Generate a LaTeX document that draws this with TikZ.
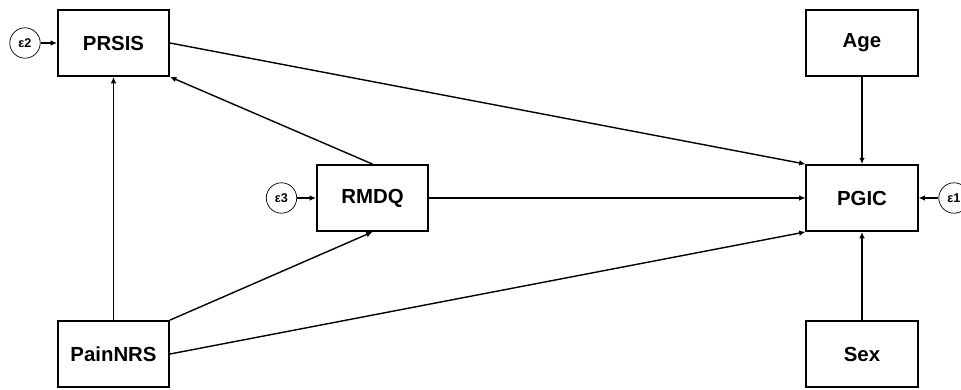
\documentclass[tikz,border=0pt]{standalone}
\usepackage{fontspec}
\setmainfont{Liberation Sans}
\usetikzlibrary{arrows.meta}
\tikzset{
	var/.style={draw=black, line width=1.3pt, minimum width=2.78cm, minimum height=1.65cm, font=\fontsize{14.5}{16}\selectfont\bfseries},
	err/.style={draw=black, line width=0.5pt, circle, minimum size=0.76cm, inner sep=0pt, font=\fontsize{9}{10}\selectfont\bfseries},
	path/.style={line width=1pt, -{Latex[length=4.5pt,width=4pt]}}
}

\begin{document}
\begin{tikzpicture}[x=0.025cm, y=-0.025cm]
			%%%%% START %%%%%
			
			\useasboundingbox (0, 0) rectangle (961, 389);
			
			\node[var] (PRSIS) at (113.5, 43) {PRSIS};
			\node[var] (PainNRS) at (113.5, 354) {PainNRS};
			\node[var] (RMDQ) at (372.5, 198) {RMDQ};
			\node[var] (Age) at (862, 43) {Age};
			\node[var] (PGIC) at (862, 198) {PGIC};
			\node[var] (Sex) at (862, 354) {Sex};
			
			\node[err] (e2) at (25, 43) {ε2};
			\node[err] (e3) at (281.5, 198) {ε3};
			\node[err] (e1) at (954, 198) {ε1};
			
			\draw[path] (e2) -- (PRSIS.west);
			\draw[path] (e3) -- (RMDQ.west);
			\draw[path] (e1) -- (PGIC.east);
			
			\draw[path] (PainNRS.north) -- (PRSIS.south);
			\draw[path] (RMDQ.north) -- (PRSIS.south east);
			\draw[path] (PainNRS.north east) -- (RMDQ.south);
			
			\draw[path] (PRSIS.east) -- (PGIC.north west);
			\draw[path] (RMDQ.east) -- (PGIC.west);
			\draw[path] (PainNRS.east) -- (PGIC.south west);
			\draw[path] (Age.south) -- (PGIC.north);
			\draw[path] (Sex.north) -- (PGIC.south);
			
			%%%%% END %%%%%
\end{tikzpicture}
\end{document}
